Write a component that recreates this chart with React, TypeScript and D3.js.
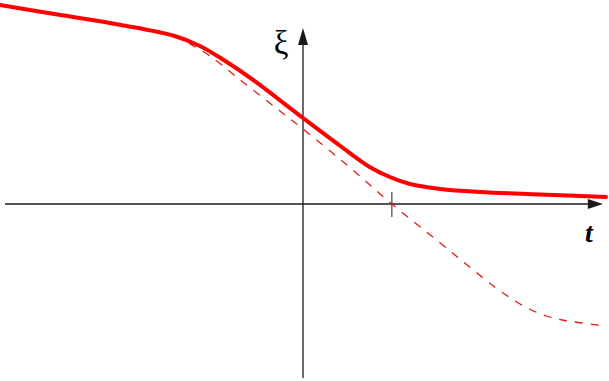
import React from 'react';
import * as d3 from 'd3';

// solid curve (t, xi)
const solidT = [-3.0, -2.4, -1.8, -1.27, -1.02, -0.77, -0.52, 0, 0.37, 0.66, 0.86, 1.06, 1.36, 1.75, 2.35, 3.0];
const solidXi = [1.99, 1.89, 1.79, 1.68, 1.58, 1.43, 1.26, 0.86, 0.58, 0.37, 0.27, 0.2, 0.15, 0.12, 0.095, 0.07];

// dashed curve (t, xi)
const dashT = [-1.27, -1.12, -0.92, -0.67, -0.33, 0, 0.47, 0.88, 1.36, 1.65, 1.91, 2.07, 2.24, 2.41, 2.57, 2.76, 3.0];
const dashXi = [1.68, 1.6, 1.48, 1.28, 1.01, 0.75, 0.36, 0, -0.39, -0.63, -0.84, -0.95, -1.05, -1.12, -1.16, -1.19, -1.22];

const tickT = [0.88];
const labels = { x: 't', y: 'ξ' };

const W = 609;
const H = 381;

export default function App() {
  var xScale = d3.scaleLinear().domain([-3, 3]).range([0, 606]);
  var yScale = d3.scaleLinear().domain([-1.8, 2.1]).range([384, -6]);

  var line = d3.line<[number, number]>()
    .x(d => xScale(d[0]))
    .y(d => yScale(d[1]))
    .curve(d3.curveCatmullRom.alpha(0.5));

  var solid = solidT.map((t, i) => [t, solidXi[i]] as [number, number]);
  var dashed = dashT.map((t, i) => [t, dashXi[i]] as [number, number]);

  var x0 = xScale(0);
  var y0 = yScale(0);
  // axis extents
  var xStart = xScale(-2.95), xEnd = xScale(2.97), xArrowBase = xScale(2.82);
  var yStart = yScale(-1.74), yEnd = yScale(1.76), yArrowBase = yScale(1.59);
  var axisColor = '#1a1a1a';

  return (
    <svg width={W} height={H} style={{ position: 'absolute', left: 0, top: 0, background: '#fff' }}>
      {/* x axis */}
      <line x1={xStart} y1={y0} x2={xArrowBase} y2={y0} stroke={axisColor} strokeWidth={1.3} />
      <polygon points={`${xEnd},${y0} ${xArrowBase},${y0 - 5} ${xArrowBase},${y0 + 5}`} fill={axisColor} />
      {/* y axis */}
      <line x1={x0} y1={yStart} x2={x0} y2={yArrowBase} stroke={axisColor} strokeWidth={1.3} />
      <polygon points={`${x0},${yEnd} ${x0 - 5},${yArrowBase} ${x0 + 5},${yArrowBase}`} fill={axisColor} />
      {tickT.map((t, i) => (
        <line key={i} x1={xScale(t)} y1={y0 - 12} x2={xScale(t)} y2={y0 + 13} stroke={axisColor} strokeWidth={1} />
      ))}
      <path d={line(dashed) || ''} fill="none" stroke="#e31a1c" strokeWidth={1.3} strokeDasharray="8,8" />
      <path d={line(solid) || ''} fill="none" stroke="#ff0000" strokeWidth={4} strokeLinecap="round" />
      <text x={x0 - 22} y={54} textAnchor="middle" fontFamily="'Liberation Serif', serif" fontSize={33}>{labels.y}</text>
      <text x={589} y={242} textAnchor="middle" fontFamily="'Liberation Serif', serif" fontWeight="bold" fontStyle="italic" fontSize={28}>{labels.x}</text>
    </svg>
  );
}
